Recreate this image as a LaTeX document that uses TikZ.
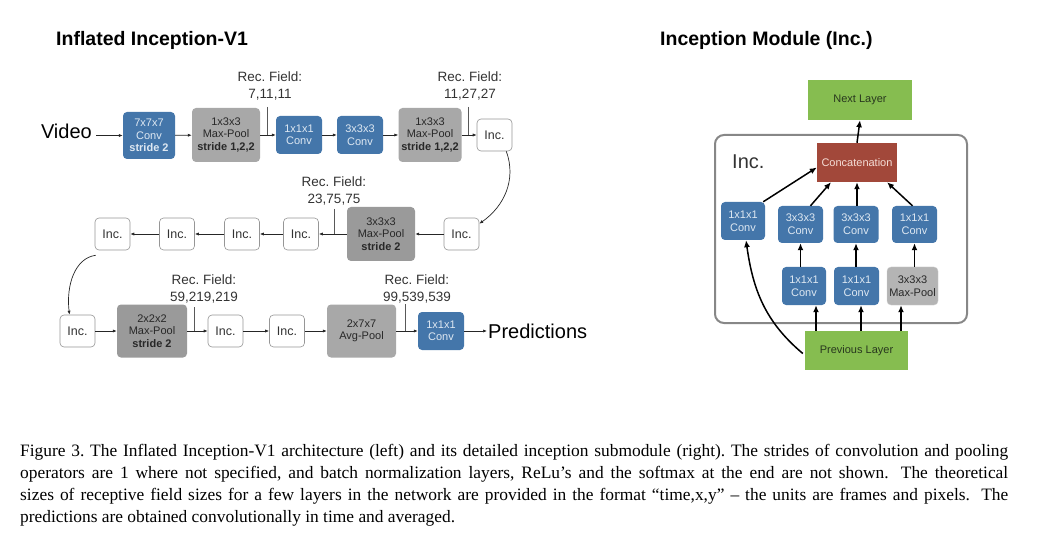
\documentclass[tikz,border=0pt]{standalone}
\usepackage{fontspec}
\setmainfont{Liberation Serif}
\newfontfamily\hv{Liberation Sans}
\usetikzlibrary{arrows.meta,calc}
\definecolor{convblue}{RGB}{68,118,170}
\definecolor{convtext}{RGB}{222,232,242}
\definecolor{poolgray}{RGB}{168,168,168}
\definecolor{pooldark}{RGB}{154,154,154}
\definecolor{poollight}{RGB}{180,180,180}
\definecolor{pooltext}{RGB}{40,40,40}
\definecolor{incgray}{RGB}{150,150,150}
\definecolor{boxgreen}{RGB}{134,189,80}
\definecolor{greentext}{RGB}{40,55,30}
\definecolor{concatred}{RGB}{162,72,58}
\definecolor{concattext}{RGB}{245,222,215}
\definecolor{framegray}{RGB}{135,135,135}
\frenchspacing
\begin{document}
\begin{tikzpicture}[x=1pt,y=-1pt,
  box/.style={rounded corners=4pt, inner sep=0pt, align=center, font=\hv\fontsize{11}{12.5}\selectfont},
  conv/.style={box, fill=convblue, text=convtext},
  pool/.style={box, fill=poolgray, text=pooltext},
  inc/.style={box, draw=incgray, fill=white, line width=0.6pt, text=black!80, font=\hv\fontsize{12.5}{14}\selectfont, minimum width=35pt, minimum height=32pt},
  arr/.style={-{Latex[length=4pt,width=3.2pt]}, line width=0.7pt, draw=black!85},
  rf/.style={font=\hv\fontsize{13.5}{16.5}\selectfont, text=black!80, align=center, inner sep=0pt},
  rfline/.style={line width=0.8pt, draw=black!65},
  rbox/.style={inner sep=0pt, align=center, font=\hv\fontsize{11}{13}\selectfont},
  rarr/.style={-{Latex[length=7pt,width=6pt]}, line width=1.5pt, draw=black},
]
\useasboundingbox (0,0) rectangle (1042,540);

% titles
\node[anchor=west, inner sep=0pt, font=\hv\bfseries\fontsize{19.5}{22}\selectfont] (t1) at (56,40) {Inflated Inception-V1};
\node[anchor=west, inner sep=0pt, font=\hv\bfseries\fontsize{19.5}{22}\selectfont] (t2) at (660,40) {Inception Module (Inc.)};

% ---------- row 1
\node[anchor=east, inner sep=1pt, font=\hv\fontsize{20}{24}\selectfont] (video) at (93,131) {Video};
\node[conv, minimum width=52pt, minimum height=47pt] (c1) at (149,135.5) {7x7x7\\Conv\\\textbf{stride 2}};
\node[pool, minimum width=68pt, minimum height=54pt] (mp1) at (226,135) {1x3x3\\Max-Pool\\\textbf{stride 1,2,2}};
\node[conv, minimum width=46pt, minimum height=38pt] (c2) at (299,135) {1x1x1\\Conv};
\node[conv, minimum width=46pt, minimum height=38pt] (c3) at (360,135) {3x3x3\\Conv};
\node[pool, minimum width=63pt, minimum height=54pt] (mp2) at (430,135) {1x3x3\\Max-Pool\\\textbf{stride 1,2,2}};
\node[inc] (i1) at (494.5,135) {Inc.};

\draw[arr] ([xshift=3pt]video.east |- c1.west) -- (c1.west);
\draw[arr] (c1) -- (mp1);
\draw[arr] (mp1) -- (c2);
\draw[arr] (c2) -- (c3);
\draw[arr] (c3) -- (mp2);
\draw[arr] (mp2) -- (i1);

\node[rf] (rf1) at (270,86) {Rec. Field:\\7,11,11};
\coordinate (rf1top) at (267,107);
\draw[rfline] (rf1top) -- (rf1top |- mp1.east);
\node[rf] (rf2) at (470,86) {Rec. Field:\\11,27,27};
\coordinate (rf2top) at (468,107);
\draw[rfline] (rf2top) -- (rf2top |- mp2.east);

% ---------- row 2
\node[inc] (i2) at (461.5,234) {Inc.};
\node[pool, fill=pooldark, minimum width=68pt, minimum height=54pt] (mp3) at (381,234) {3x3x3\\Max-Pool\\\textbf{stride 2}};
\node[inc] (i3) at (301,234) {Inc.};
\node[inc] (i4) at (242,234) {Inc.};
\node[inc] (i5) at (177,234) {Inc.};
\node[inc] (i6) at (112.5,234) {Inc.};

\draw[arr] ([xshift=-6pt]i1.south east) to[out=-70,in=35] ([yshift=-6pt]i2.north east);
\draw[arr] (i2) -- (mp3);
\draw[arr] (mp3) -- (i3);
\draw[arr] (i3) -- (i4);
\draw[arr] (i4) -- (i5);
\draw[arr] (i5) -- (i6);

\node[rf] (rf3) at (334,191) {Rec. Field:\\23,75,75};
\coordinate (rf3top) at (334,209);
\draw[rfline] (rf3top) -- (rf3top |- mp3.west);

% ---------- row 3
\node[inc] (i7) at (77.5,331) {Inc.};
\node[pool, fill=pooldark, minimum width=70pt, minimum height=53pt] (mp4) at (152,331) {2x2x2\\Max-Pool\\\textbf{stride 2}};
\node[inc] (i8) at (225.5,331) {Inc.};
\node[inc] (i9) at (287,331) {Inc.};
\node[pool, minimum width=69pt, minimum height=53pt] (ap) at (361.5,331) {2x7x7\\Avg-Pool};
\node[conv, minimum width=46pt, minimum height=38pt] (c4) at (441,331) {1x1x1\\Conv};
\node[anchor=west, inner sep=1pt, font=\hv\fontsize{20}{24}\selectfont] (pred) at (487,331) {Predictions};

\draw[arr] ([xshift=1pt,yshift=-5pt]i6.south west) .. controls (75,258) and (66,285) .. ([xshift=-8pt]i7.north);
\draw[arr] (i7) -- (mp4);
\draw[arr] (mp4) -- (i8);
\draw[arr] (i8) -- (i9);
\draw[arr] (i9) -- (ap);
\draw[arr] (ap) -- (c4);
\draw[arr] (c4) -- (pred.west |- c4.east);

\node[rf] (rf4) at (204,289) {Rec. Field:\\59,219,219};
\coordinate (rf4top) at (194,307);
\draw[rfline] (rf4top) -- (rf4top |- mp4.east);
\node[rf] (rf5) at (417,289) {Rec. Field:\\99,539,539};
\coordinate (rf5top) at (405,304);
\draw[rfline] (rf5top) -- (rf5top |- ap.east);

% ---------- right: inception module
\node[rbox, fill=boxgreen, text=greentext, minimum width=104pt, minimum height=40pt] (nl) at (860,100) {Next Layer};
\draw[framegray, line width=2pt, rounded corners=9pt] (715,135) rectangle (967,323);
\node[anchor=west, inner sep=0pt, text=black!80, font=\hv\fontsize{20}{24}\selectfont] (inclabel) at (732,162) {Inc.};
\node[rbox, fill=concatred, text=concattext, minimum width=80pt, minimum height=39pt] (cat) at (857,162.5) {Concatenation};

\node[conv, rbox, rounded corners=4pt, minimum width=44pt, minimum height=38pt] (b1) at (743,221) {1x1x1\\Conv};
\node[conv, rbox, rounded corners=4pt, minimum width=45pt, minimum height=37pt] (b2) at (800.5,224.5) {3x3x3\\Conv};
\node[conv, rbox, rounded corners=4pt, minimum width=45pt, minimum height=37pt] (b3) at (856,224.5) {3x3x3\\Conv};
\node[conv, rbox, rounded corners=4pt, minimum width=45pt, minimum height=37pt] (b4) at (914.5,224.5) {1x1x1\\Conv};
\node[conv, rbox, rounded corners=4pt, minimum width=44pt, minimum height=38pt] (b5) at (804,286) {1x1x1\\Conv};
\node[conv, rbox, rounded corners=4pt, minimum width=45pt, minimum height=38pt] (b6) at (856.5,286) {1x1x1\\Conv};
\node[pool, rbox, rounded corners=4pt, fill=poollight, draw=black!20, minimum width=51pt, minimum height=38pt] (b7) at (912.5,286) {3x3x3\\Max-Pool};
\node[rbox, fill=boxgreen, text=greentext, minimum width=103pt, minimum height=39pt] (pl) at (856.5,350.5) {Previous Layer};

\draw[rarr] ([xshift=12pt]b5.south |- pl.north) -- ([xshift=12pt]b5.south);
\draw[rarr] ([xshift=4.5pt]b6.south |- pl.north) -- ([xshift=4.5pt]b6.south);
\draw[rarr] ([xshift=-11.5pt]b7.south |- pl.north) -- ([xshift=-11.5pt]b7.south);
\draw[rarr] (b2.south |- b5.north) -- (b2.south);
\draw[rarr] (b3.south |- b6.north) -- (b3.south);
\draw[rarr] (b4.south |- b7.north) -- (b4.south);
\draw[rarr] ([xshift=-2pt,yshift=-3pt]pl.west) to[out=140,in=-82] ([xshift=3pt]b1.south);
\draw[rarr] ([xshift=-2pt]b1.north east) -- ([yshift=-5pt]cat.west);
\draw[rarr] ([xshift=10pt]b2.north) -- ([xshift=-26pt]cat.south);
\draw[rarr] (b3.north -| cat.south) -- (cat.south);
\draw[rarr] ([xshift=-2pt]b4.north) -- ([xshift=30pt]cat.south);
\draw[rarr] (cat.north) -- (nl.south);

% ---------- caption
\node[anchor=north west, inner sep=0pt, text width=988pt, align=justify, font=\fontsize{17.4}{22}\selectfont] (cap) at (20,444.5)
{Figure 3. The Inflated Inception-V1 architecture (left) and its detailed inception submodule (right). The strides of convolution and pooling\linebreak
operators are 1 where not specified, and batch normalization layers, ReLu’s and the softmax at the end are not shown.\hspace{0.3em} The theoretical\linebreak
sizes of receptive field sizes for a few layers in the network are provided in the format “time,x,y” – the units are frames and pixels.\hspace{0.3em} The\linebreak
predictions are obtained convolutionally in time and averaged.};
\end{tikzpicture}
\end{document}
